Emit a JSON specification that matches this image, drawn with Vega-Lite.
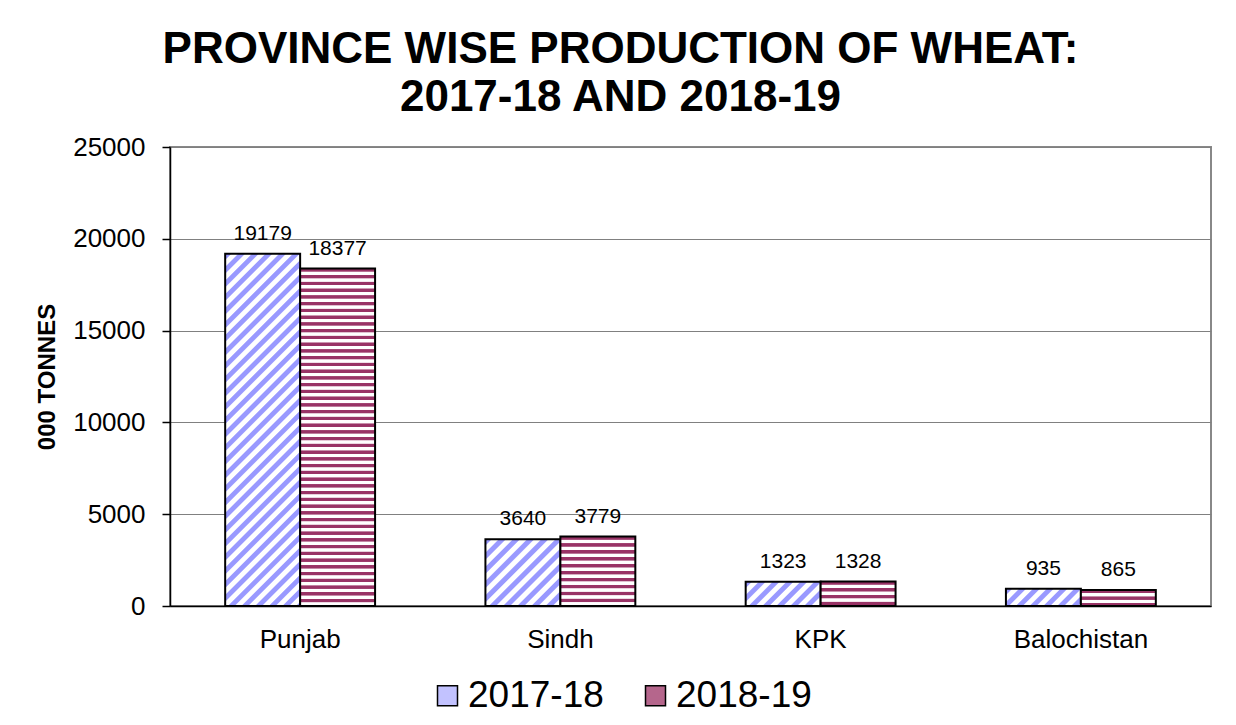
{
 "$schema": "https://vega.github.io/schema/vega-lite/v6.json",
 "width": 1041,
 "height": 459,
 "padding": {"left": 35, "top": 28, "right": 25, "bottom": 5},
 "background": "white",
 "config": {"font": "Liberation Sans", "view": {"stroke": "#888", "strokeWidth": 2}},
 "title": {"text": ["PROVINCE WISE PRODUCTION OF WHEAT:", "2017-18 AND 2018-19"], "fontSize": 44, "fontWeight": "bold", "color": "#000", "lineHeight": 48, "anchor": "middle", "frame": "group", "dx": -70, "offset": 14},
 "data": {"values": [
  {"province": "Punjab", "year": "2017-18", "value": 19179},
  {"province": "Punjab", "year": "2018-19", "value": 18377},
  {"province": "Sindh", "year": "2017-18", "value": 3640},
  {"province": "Sindh", "year": "2018-19", "value": 3779},
  {"province": "KPK", "year": "2017-18", "value": 1323},
  {"province": "KPK", "year": "2018-19", "value": 1328},
  {"province": "Balochistan", "year": "2017-18", "value": 935},
  {"province": "Balochistan", "year": "2018-19", "value": 865}
 ]},
 "encoding": {
  "x": {"field": "province", "type": "nominal", "sort": null, "scale": {"paddingInner": 0.424, "paddingOuter": 0.212},
   "axis": {"title": null, "labelAngle": 0, "labelFontSize": 26, "labelColor": "#000", "ticks": false, "labelPadding": 20, "domainColor": "#000", "domainWidth": 1.5, "grid": false}},
  "xOffset": {"field": "year", "type": "nominal", "sort": ["2017-18", "2018-19"]},
  "y": {"field": "value", "type": "quantitative", "scale": {"domain": [0, 25000], "nice": false},
   "axis": {"title": "000 TONNES", "titleFontSize": 24, "titleFontWeight": "bold", "titleColor": "#000", "titlePadding": 13, "labelFontSize": 26, "labelColor": "#000", "labelPadding": 17, "tickSize": 8, "tickColor": "#000", "tickWidth": 1.5, "domainColor": "#000", "domainWidth": 1.5, "values": [0, 5000, 10000, 15000, 20000, 25000], "format": "d", "gridColor": "#808080", "gridWidth": 1}}
 },
 "layer": [
  {"mark": {"type": "bar", "stroke": "#000", "strokeWidth": 2},
   "encoding": {"fill": {"field": "year", "type": "nominal",
    "scale": {"domain": ["2017-18", "2018-19"], "range": ["#c2c2ff", "#b5668c"]},
    "legend": {"orient": "none", "legendX": 259, "legendY": 530, "direction": "horizontal", "title": null, "symbolType": "square", "symbolSize": 400, "symbolStrokeColor": "#000", "symbolStrokeWidth": 1.5, "labelFontSize": 37, "labelColor": "#000", "labelOffset": 2, "columnPadding": 33,
     "encode": {"symbols": {"update": {"stroke": {"value": "#000"}, "strokeWidth": {"value": 1.5}}}}},
    "condition": [
     {"test": "datum.province === 'Punjab' && datum.year === '2017-18'", "value": {"gradient": "linear", "x1": 0, "y1": 0, "x2": 0.2472, "y2": 1.1604, "stops": [
      {"offset":0,"color":"#99f"},{"offset":0.0128,"color":"#99f"},{"offset":0.016,"color":"#fff"},{"offset":0.0288,"color":"#fff"},
      {"offset":0.032,"color":"#99f"},{"offset":0.0448,"color":"#99f"},{"offset":0.048,"color":"#fff"},{"offset":0.0608,"color":"#fff"},
      {"offset":0.064,"color":"#99f"},{"offset":0.0768,"color":"#99f"},{"offset":0.08,"color":"#fff"},{"offset":0.0928,"color":"#fff"},
      {"offset":0.096,"color":"#99f"},{"offset":0.1088,"color":"#99f"},{"offset":0.112,"color":"#fff"},{"offset":0.1248,"color":"#fff"},
      {"offset":0.128,"color":"#99f"},{"offset":0.1408,"color":"#99f"},{"offset":0.144,"color":"#fff"},{"offset":0.1568,"color":"#fff"},
      {"offset":0.16,"color":"#99f"},{"offset":0.1728,"color":"#99f"},{"offset":0.176,"color":"#fff"},{"offset":0.1888,"color":"#fff"},
      {"offset":0.192,"color":"#99f"},{"offset":0.2048,"color":"#99f"},{"offset":0.208,"color":"#fff"},{"offset":0.2208,"color":"#fff"},
      {"offset":0.224,"color":"#99f"},{"offset":0.2368,"color":"#99f"},{"offset":0.24,"color":"#fff"},{"offset":0.2528,"color":"#fff"},
      {"offset":0.256,"color":"#99f"},{"offset":0.2688,"color":"#99f"},{"offset":0.272,"color":"#fff"},{"offset":0.2848,"color":"#fff"},
      {"offset":0.288,"color":"#99f"},{"offset":0.3008,"color":"#99f"},{"offset":0.304,"color":"#fff"},{"offset":0.3168,"color":"#fff"},
      {"offset":0.32,"color":"#99f"},{"offset":0.3328,"color":"#99f"},{"offset":0.336,"color":"#fff"},{"offset":0.3488,"color":"#fff"},
      {"offset":0.352,"color":"#99f"},{"offset":0.3648,"color":"#99f"},{"offset":0.368,"color":"#fff"},{"offset":0.3808,"color":"#fff"},
      {"offset":0.384,"color":"#99f"},{"offset":0.3968,"color":"#99f"},{"offset":0.4,"color":"#fff"},{"offset":0.4128,"color":"#fff"},
      {"offset":0.416,"color":"#99f"},{"offset":0.4288,"color":"#99f"},{"offset":0.432,"color":"#fff"},{"offset":0.4448,"color":"#fff"},
      {"offset":0.448,"color":"#99f"},{"offset":0.4608,"color":"#99f"},{"offset":0.464,"color":"#fff"},{"offset":0.4768,"color":"#fff"},
      {"offset":0.48,"color":"#99f"},{"offset":0.4928,"color":"#99f"},{"offset":0.496,"color":"#fff"},{"offset":0.5088,"color":"#fff"},
      {"offset":0.512,"color":"#99f"},{"offset":0.5248,"color":"#99f"},{"offset":0.528,"color":"#fff"},{"offset":0.5408,"color":"#fff"},
      {"offset":0.544,"color":"#99f"},{"offset":0.5568,"color":"#99f"},{"offset":0.56,"color":"#fff"},{"offset":0.5728,"color":"#fff"},
      {"offset":0.576,"color":"#99f"},{"offset":0.5888,"color":"#99f"},{"offset":0.592,"color":"#fff"},{"offset":0.6048,"color":"#fff"},
      {"offset":0.608,"color":"#99f"},{"offset":0.6208,"color":"#99f"},{"offset":0.624,"color":"#fff"},{"offset":0.6368,"color":"#fff"},
      {"offset":0.64,"color":"#99f"},{"offset":0.6528,"color":"#99f"},{"offset":0.656,"color":"#fff"},{"offset":0.6688,"color":"#fff"},
      {"offset":0.672,"color":"#99f"},{"offset":0.6848,"color":"#99f"},{"offset":0.688,"color":"#fff"},{"offset":0.7008,"color":"#fff"},
      {"offset":0.704,"color":"#99f"},{"offset":0.7168,"color":"#99f"},{"offset":0.72,"color":"#fff"},{"offset":0.7328,"color":"#fff"},
      {"offset":0.736,"color":"#99f"},{"offset":0.7488,"color":"#99f"},{"offset":0.752,"color":"#fff"},{"offset":0.7648,"color":"#fff"},
      {"offset":0.768,"color":"#99f"},{"offset":0.7808,"color":"#99f"},{"offset":0.784,"color":"#fff"},{"offset":0.7968,"color":"#fff"},
      {"offset":0.8,"color":"#99f"},{"offset":0.8128,"color":"#99f"},{"offset":0.816,"color":"#fff"},{"offset":0.8288,"color":"#fff"},
      {"offset":0.832,"color":"#99f"},{"offset":0.8448,"color":"#99f"},{"offset":0.848,"color":"#fff"},{"offset":0.8608,"color":"#fff"},
      {"offset":0.864,"color":"#99f"},{"offset":0.8768,"color":"#99f"},{"offset":0.88,"color":"#fff"},{"offset":0.8928,"color":"#fff"},
      {"offset":0.896,"color":"#99f"},{"offset":0.9088,"color":"#99f"},{"offset":0.912,"color":"#fff"},{"offset":0.9248,"color":"#fff"},
      {"offset":0.928,"color":"#99f"},{"offset":0.9408,"color":"#99f"},{"offset":0.944,"color":"#fff"},{"offset":0.9568,"color":"#fff"},
      {"offset":0.96,"color":"#99f"},{"offset":0.9728,"color":"#99f"},{"offset":0.976,"color":"#fff"},{"offset":0.9888,"color":"#fff"},
      {"offset":0.992,"color":"#99f"},{"offset":1,"color":"#99f"}]}},
     {"test": "datum.province === 'Sindh' && datum.year === '2017-18'", "value": {"gradient": "linear", "x1": 0, "y1": 0, "x2": 1.0543, "y2": 0.939, "stops": [
      {"offset":0,"color":"#99f"},{"offset":0.04,"color":"#99f"},{"offset":0.05,"color":"#fff"},{"offset":0.09,"color":"#fff"},
      {"offset":0.1,"color":"#99f"},{"offset":0.14,"color":"#99f"},{"offset":0.15,"color":"#fff"},{"offset":0.19,"color":"#fff"},
      {"offset":0.2,"color":"#99f"},{"offset":0.24,"color":"#99f"},{"offset":0.25,"color":"#fff"},{"offset":0.29,"color":"#fff"},
      {"offset":0.3,"color":"#99f"},{"offset":0.34,"color":"#99f"},{"offset":0.35,"color":"#fff"},{"offset":0.39,"color":"#fff"},
      {"offset":0.4,"color":"#99f"},{"offset":0.44,"color":"#99f"},{"offset":0.45,"color":"#fff"},{"offset":0.49,"color":"#fff"},
      {"offset":0.5,"color":"#99f"},{"offset":0.54,"color":"#99f"},{"offset":0.55,"color":"#fff"},{"offset":0.59,"color":"#fff"},
      {"offset":0.6,"color":"#99f"},{"offset":0.64,"color":"#99f"},{"offset":0.65,"color":"#fff"},{"offset":0.69,"color":"#fff"},
      {"offset":0.7,"color":"#99f"},{"offset":0.74,"color":"#99f"},{"offset":0.75,"color":"#fff"},{"offset":0.79,"color":"#fff"},
      {"offset":0.8,"color":"#99f"},{"offset":0.84,"color":"#99f"},{"offset":0.85,"color":"#fff"},{"offset":0.89,"color":"#fff"},
      {"offset":0.9,"color":"#99f"},{"offset":0.94,"color":"#99f"},{"offset":0.95,"color":"#fff"},{"offset":0.99,"color":"#fff"},
      {"offset":1,"color":"#99f"}]}},
     {"test": "datum.province === 'KPK' && datum.year === '2017-18'", "value": {"gradient": "linear", "x1": 0, "y1": 0, "x2": 1.1982, "y2": 0.388, "stops": [
      {"offset":0,"color":"#99f"},{"offset":0.056,"color":"#99f"},{"offset":0.07,"color":"#fff"},{"offset":0.126,"color":"#fff"},
      {"offset":0.14,"color":"#99f"},{"offset":0.196,"color":"#99f"},{"offset":0.21,"color":"#fff"},{"offset":0.266,"color":"#fff"},
      {"offset":0.28,"color":"#99f"},{"offset":0.336,"color":"#99f"},{"offset":0.35,"color":"#fff"},{"offset":0.406,"color":"#fff"},
      {"offset":0.42,"color":"#99f"},{"offset":0.476,"color":"#99f"},{"offset":0.49,"color":"#fff"},{"offset":0.546,"color":"#fff"},
      {"offset":0.56,"color":"#99f"},{"offset":0.616,"color":"#99f"},{"offset":0.63,"color":"#fff"},{"offset":0.686,"color":"#fff"},
      {"offset":0.7,"color":"#99f"},{"offset":0.756,"color":"#99f"},{"offset":0.77,"color":"#fff"},{"offset":0.826,"color":"#fff"},
      {"offset":0.84,"color":"#99f"},{"offset":0.896,"color":"#99f"},{"offset":0.91,"color":"#fff"},{"offset":0.966,"color":"#fff"},
      {"offset":0.98,"color":"#99f"},{"offset":1,"color":"#99f"}]}},
     {"test": "datum.province === 'Balochistan' && datum.year === '2017-18'", "value": {"gradient": "linear", "x1": 0, "y1": 0, "x2": 1.1678, "y2": 0.2673, "stops": [
      {"offset":0,"color":"#99f"},{"offset":0.06,"color":"#99f"},{"offset":0.075,"color":"#fff"},{"offset":0.135,"color":"#fff"},
      {"offset":0.15,"color":"#99f"},{"offset":0.21,"color":"#99f"},{"offset":0.225,"color":"#fff"},{"offset":0.285,"color":"#fff"},
      {"offset":0.3,"color":"#99f"},{"offset":0.36,"color":"#99f"},{"offset":0.375,"color":"#fff"},{"offset":0.435,"color":"#fff"},
      {"offset":0.45,"color":"#99f"},{"offset":0.51,"color":"#99f"},{"offset":0.525,"color":"#fff"},{"offset":0.585,"color":"#fff"},
      {"offset":0.6,"color":"#99f"},{"offset":0.66,"color":"#99f"},{"offset":0.675,"color":"#fff"},{"offset":0.735,"color":"#fff"},
      {"offset":0.75,"color":"#99f"},{"offset":0.81,"color":"#99f"},{"offset":0.825,"color":"#fff"},{"offset":0.885,"color":"#fff"},
      {"offset":0.9,"color":"#99f"},{"offset":0.96,"color":"#99f"},{"offset":0.975,"color":"#fff"},{"offset":1,"color":"#fff"}]}},
     {"test": "datum.province === 'Punjab' && datum.year === '2018-19'", "value": {"gradient": "linear", "x1": 0, "y1": 0, "x2": 0, "y2": 1, "stops": [
      {"offset":0,"color":"#936"},{"offset":0.008,"color":"#936"},{"offset":0.01,"color":"#fff"},{"offset":0.018,"color":"#fff"},
      {"offset":0.02,"color":"#936"},{"offset":0.028,"color":"#936"},{"offset":0.03,"color":"#fff"},{"offset":0.038,"color":"#fff"},
      {"offset":0.04,"color":"#936"},{"offset":0.048,"color":"#936"},{"offset":0.05,"color":"#fff"},{"offset":0.058,"color":"#fff"},
      {"offset":0.06,"color":"#936"},{"offset":0.068,"color":"#936"},{"offset":0.07,"color":"#fff"},{"offset":0.078,"color":"#fff"},
      {"offset":0.08,"color":"#936"},{"offset":0.088,"color":"#936"},{"offset":0.09,"color":"#fff"},{"offset":0.098,"color":"#fff"},
      {"offset":0.1,"color":"#936"},{"offset":0.108,"color":"#936"},{"offset":0.11,"color":"#fff"},{"offset":0.118,"color":"#fff"},
      {"offset":0.12,"color":"#936"},{"offset":0.128,"color":"#936"},{"offset":0.13,"color":"#fff"},{"offset":0.138,"color":"#fff"},
      {"offset":0.14,"color":"#936"},{"offset":0.148,"color":"#936"},{"offset":0.15,"color":"#fff"},{"offset":0.158,"color":"#fff"},
      {"offset":0.16,"color":"#936"},{"offset":0.168,"color":"#936"},{"offset":0.17,"color":"#fff"},{"offset":0.178,"color":"#fff"},
      {"offset":0.18,"color":"#936"},{"offset":0.188,"color":"#936"},{"offset":0.19,"color":"#fff"},{"offset":0.198,"color":"#fff"},
      {"offset":0.2,"color":"#936"},{"offset":0.208,"color":"#936"},{"offset":0.21,"color":"#fff"},{"offset":0.218,"color":"#fff"},
      {"offset":0.22,"color":"#936"},{"offset":0.228,"color":"#936"},{"offset":0.23,"color":"#fff"},{"offset":0.238,"color":"#fff"},
      {"offset":0.24,"color":"#936"},{"offset":0.248,"color":"#936"},{"offset":0.25,"color":"#fff"},{"offset":0.258,"color":"#fff"},
      {"offset":0.26,"color":"#936"},{"offset":0.268,"color":"#936"},{"offset":0.27,"color":"#fff"},{"offset":0.278,"color":"#fff"},
      {"offset":0.28,"color":"#936"},{"offset":0.288,"color":"#936"},{"offset":0.29,"color":"#fff"},{"offset":0.298,"color":"#fff"},
      {"offset":0.3,"color":"#936"},{"offset":0.308,"color":"#936"},{"offset":0.31,"color":"#fff"},{"offset":0.318,"color":"#fff"},
      {"offset":0.32,"color":"#936"},{"offset":0.328,"color":"#936"},{"offset":0.33,"color":"#fff"},{"offset":0.338,"color":"#fff"},
      {"offset":0.34,"color":"#936"},{"offset":0.348,"color":"#936"},{"offset":0.35,"color":"#fff"},{"offset":0.358,"color":"#fff"},
      {"offset":0.36,"color":"#936"},{"offset":0.368,"color":"#936"},{"offset":0.37,"color":"#fff"},{"offset":0.378,"color":"#fff"},
      {"offset":0.38,"color":"#936"},{"offset":0.388,"color":"#936"},{"offset":0.39,"color":"#fff"},{"offset":0.398,"color":"#fff"},
      {"offset":0.4,"color":"#936"},{"offset":0.408,"color":"#936"},{"offset":0.41,"color":"#fff"},{"offset":0.418,"color":"#fff"},
      {"offset":0.42,"color":"#936"},{"offset":0.428,"color":"#936"},{"offset":0.43,"color":"#fff"},{"offset":0.438,"color":"#fff"},
      {"offset":0.44,"color":"#936"},{"offset":0.448,"color":"#936"},{"offset":0.45,"color":"#fff"},{"offset":0.458,"color":"#fff"},
      {"offset":0.46,"color":"#936"},{"offset":0.468,"color":"#936"},{"offset":0.47,"color":"#fff"},{"offset":0.478,"color":"#fff"},
      {"offset":0.48,"color":"#936"},{"offset":0.488,"color":"#936"},{"offset":0.49,"color":"#fff"},{"offset":0.498,"color":"#fff"},
      {"offset":0.5,"color":"#936"},{"offset":0.508,"color":"#936"},{"offset":0.51,"color":"#fff"},{"offset":0.518,"color":"#fff"},
      {"offset":0.52,"color":"#936"},{"offset":0.528,"color":"#936"},{"offset":0.53,"color":"#fff"},{"offset":0.538,"color":"#fff"},
      {"offset":0.54,"color":"#936"},{"offset":0.548,"color":"#936"},{"offset":0.55,"color":"#fff"},{"offset":0.558,"color":"#fff"},
      {"offset":0.56,"color":"#936"},{"offset":0.568,"color":"#936"},{"offset":0.57,"color":"#fff"},{"offset":0.578,"color":"#fff"},
      {"offset":0.58,"color":"#936"},{"offset":0.588,"color":"#936"},{"offset":0.59,"color":"#fff"},{"offset":0.598,"color":"#fff"},
      {"offset":0.6,"color":"#936"},{"offset":0.608,"color":"#936"},{"offset":0.61,"color":"#fff"},{"offset":0.618,"color":"#fff"},
      {"offset":0.62,"color":"#936"},{"offset":0.628,"color":"#936"},{"offset":0.63,"color":"#fff"},{"offset":0.638,"color":"#fff"},
      {"offset":0.64,"color":"#936"},{"offset":0.648,"color":"#936"},{"offset":0.65,"color":"#fff"},{"offset":0.658,"color":"#fff"},
      {"offset":0.66,"color":"#936"},{"offset":0.668,"color":"#936"},{"offset":0.67,"color":"#fff"},{"offset":0.678,"color":"#fff"},
      {"offset":0.68,"color":"#936"},{"offset":0.688,"color":"#936"},{"offset":0.69,"color":"#fff"},{"offset":0.698,"color":"#fff"},
      {"offset":0.7,"color":"#936"},{"offset":0.708,"color":"#936"},{"offset":0.71,"color":"#fff"},{"offset":0.718,"color":"#fff"},
      {"offset":0.72,"color":"#936"},{"offset":0.728,"color":"#936"},{"offset":0.73,"color":"#fff"},{"offset":0.738,"color":"#fff"},
      {"offset":0.74,"color":"#936"},{"offset":0.748,"color":"#936"},{"offset":0.75,"color":"#fff"},{"offset":0.758,"color":"#fff"},
      {"offset":0.76,"color":"#936"},{"offset":0.768,"color":"#936"},{"offset":0.77,"color":"#fff"},{"offset":0.778,"color":"#fff"},
      {"offset":0.78,"color":"#936"},{"offset":0.788,"color":"#936"},{"offset":0.79,"color":"#fff"},{"offset":0.798,"color":"#fff"},
      {"offset":0.8,"color":"#936"},{"offset":0.808,"color":"#936"},{"offset":0.81,"color":"#fff"},{"offset":0.818,"color":"#fff"},
      {"offset":0.82,"color":"#936"},{"offset":0.828,"color":"#936"},{"offset":0.83,"color":"#fff"},{"offset":0.838,"color":"#fff"},
      {"offset":0.84,"color":"#936"},{"offset":0.848,"color":"#936"},{"offset":0.85,"color":"#fff"},{"offset":0.858,"color":"#fff"},
      {"offset":0.86,"color":"#936"},{"offset":0.868,"color":"#936"},{"offset":0.87,"color":"#fff"},{"offset":0.878,"color":"#fff"},
      {"offset":0.88,"color":"#936"},{"offset":0.888,"color":"#936"},{"offset":0.89,"color":"#fff"},{"offset":0.898,"color":"#fff"},
      {"offset":0.9,"color":"#936"},{"offset":0.908,"color":"#936"},{"offset":0.91,"color":"#fff"},{"offset":0.918,"color":"#fff"},
      {"offset":0.92,"color":"#936"},{"offset":0.928,"color":"#936"},{"offset":0.93,"color":"#fff"},{"offset":0.938,"color":"#fff"},
      {"offset":0.94,"color":"#936"},{"offset":0.948,"color":"#936"},{"offset":0.95,"color":"#fff"},{"offset":0.958,"color":"#fff"},
      {"offset":0.96,"color":"#936"},{"offset":0.968,"color":"#936"},{"offset":0.97,"color":"#fff"},{"offset":0.978,"color":"#fff"},
      {"offset":0.98,"color":"#936"},{"offset":0.988,"color":"#936"},{"offset":0.99,"color":"#fff"},{"offset":1,"color":"#fff"}]}},
     {"test": "datum.province === 'Sindh' && datum.year === '2018-19'", "value": {"gradient": "linear", "x1": 0, "y1": 0, "x2": 0, "y2": 1, "stops": [
      {"offset":0,"color":"#936"},{"offset":0.04,"color":"#936"},{"offset":0.05,"color":"#fff"},{"offset":0.09,"color":"#fff"},
      {"offset":0.1,"color":"#936"},{"offset":0.14,"color":"#936"},{"offset":0.15,"color":"#fff"},{"offset":0.19,"color":"#fff"},
      {"offset":0.2,"color":"#936"},{"offset":0.24,"color":"#936"},{"offset":0.25,"color":"#fff"},{"offset":0.29,"color":"#fff"},
      {"offset":0.3,"color":"#936"},{"offset":0.34,"color":"#936"},{"offset":0.35,"color":"#fff"},{"offset":0.39,"color":"#fff"},
      {"offset":0.4,"color":"#936"},{"offset":0.44,"color":"#936"},{"offset":0.45,"color":"#fff"},{"offset":0.49,"color":"#fff"},
      {"offset":0.5,"color":"#936"},{"offset":0.54,"color":"#936"},{"offset":0.55,"color":"#fff"},{"offset":0.59,"color":"#fff"},
      {"offset":0.6,"color":"#936"},{"offset":0.64,"color":"#936"},{"offset":0.65,"color":"#fff"},{"offset":0.69,"color":"#fff"},
      {"offset":0.7,"color":"#936"},{"offset":0.74,"color":"#936"},{"offset":0.75,"color":"#fff"},{"offset":0.79,"color":"#fff"},
      {"offset":0.8,"color":"#936"},{"offset":0.84,"color":"#936"},{"offset":0.85,"color":"#fff"},{"offset":0.89,"color":"#fff"},
      {"offset":0.9,"color":"#936"},{"offset":0.94,"color":"#936"},{"offset":0.95,"color":"#fff"},{"offset":1,"color":"#fff"}]}},
     {"test": "datum.province === 'KPK' && datum.year === '2018-19'", "value": {"gradient": "linear", "x1": 0, "y1": 0, "x2": 0, "y2": 1, "stops": [
      {"offset":0,"color":"#936"},{"offset":0.112,"color":"#936"},{"offset":0.14,"color":"#fff"},{"offset":0.252,"color":"#fff"},
      {"offset":0.28,"color":"#936"},{"offset":0.392,"color":"#936"},{"offset":0.42,"color":"#fff"},{"offset":0.532,"color":"#fff"},
      {"offset":0.56,"color":"#936"},{"offset":0.672,"color":"#936"},{"offset":0.7,"color":"#fff"},{"offset":0.812,"color":"#fff"},
      {"offset":0.84,"color":"#936"},{"offset":0.952,"color":"#936"},{"offset":0.98,"color":"#fff"},{"offset":1,"color":"#fff"}]}},
     {"test": "datum.province === 'Balochistan' && datum.year === '2018-19'", "value": {"gradient": "linear", "x1": 0, "y1": 0, "x2": 0, "y2": 1, "stops": [
      {"offset":0,"color":"#936"},{"offset":0.168,"color":"#936"},{"offset":0.21,"color":"#fff"},{"offset":0.378,"color":"#fff"},
      {"offset":0.42,"color":"#936"},{"offset":0.588,"color":"#936"},{"offset":0.63,"color":"#fff"},{"offset":0.798,"color":"#fff"},
      {"offset":0.84,"color":"#936"},{"offset":1,"color":"#936"}]}}
    ]}}},
  {"mark": {"type": "text", "baseline": "alphabetic", "dy": -14, "fontSize": 21, "color": "#000"},
   "encoding": {"text": {"field": "value", "type": "quantitative", "format": "d"}}}
 ]
}
